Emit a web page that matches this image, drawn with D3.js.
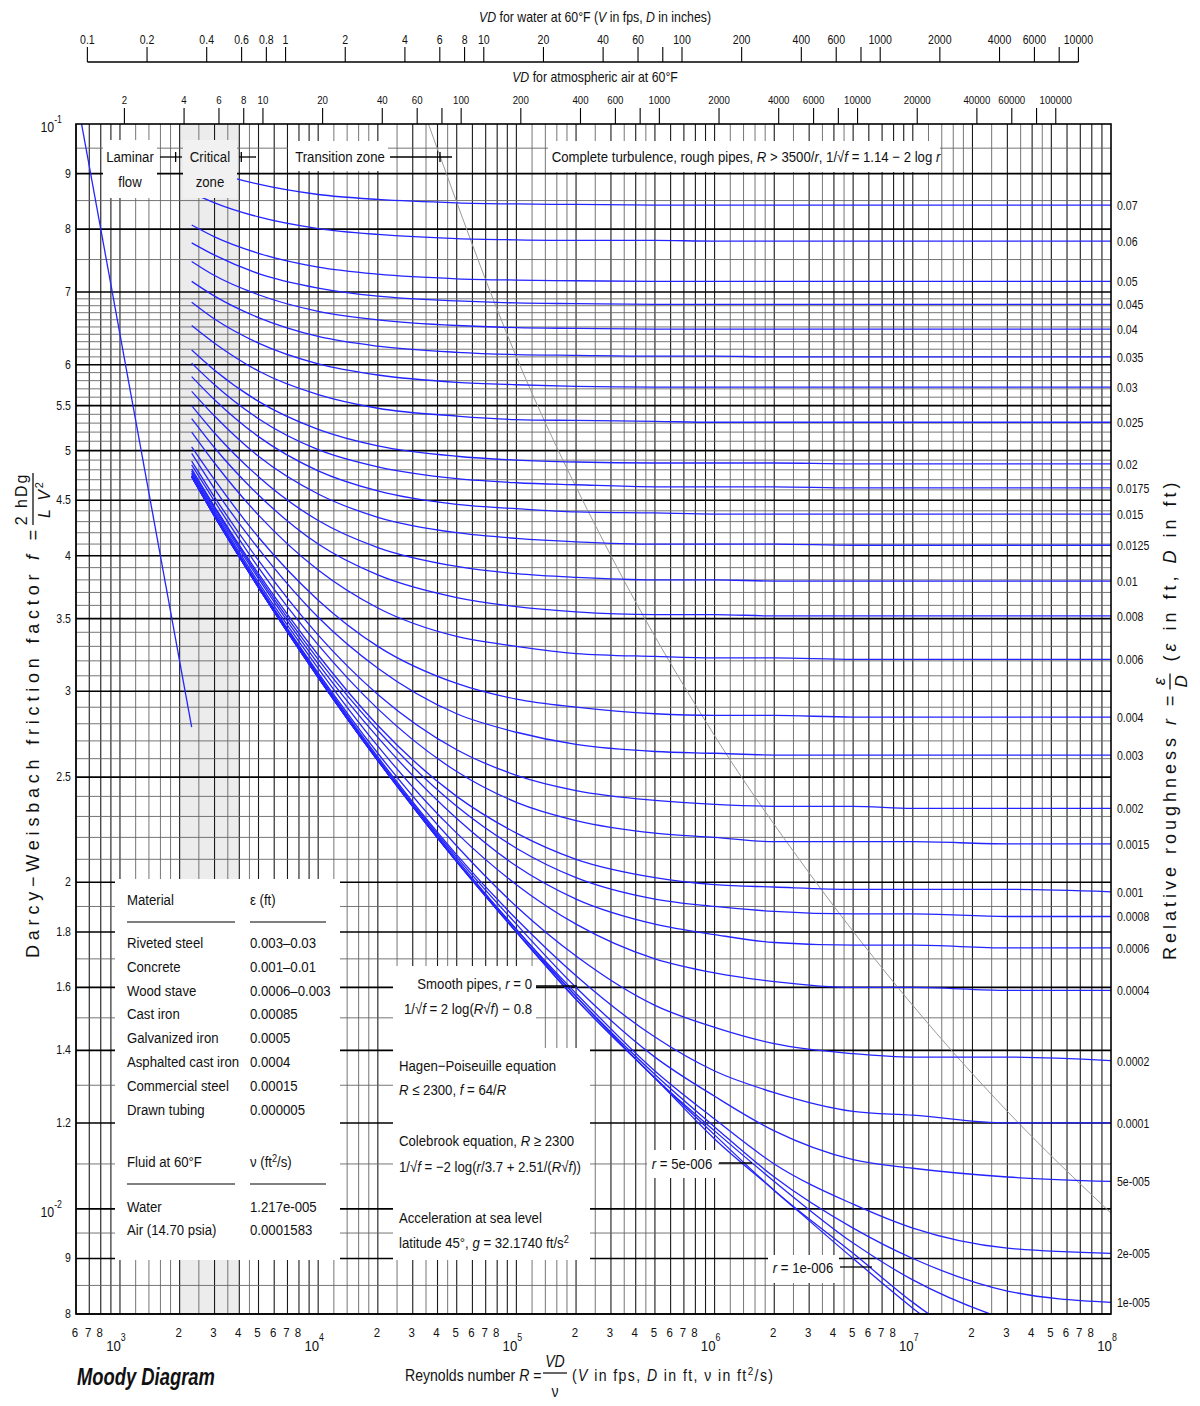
<!DOCTYPE html>
<html>
<head>
<meta charset="utf-8">
<script src="https://cdn.jsdelivr.net/npm/d3@7"></script>
<style>
body { margin: 0; background: #fff; }
svg text { font-family: "Liberation Sans", Arial, sans-serif; fill: #111; }
</style>
</head>
<body>
<svg></svg>
<script>
var reynolds = [2300, 3000, 5000, 1e4, 2e4, 5e4, 1e5, 2e5, 5e5, 1e6, 2e6, 5e6, 1e7, 3e7, 1e8];

var roughness = ["0.07", "0.06", "0.05", "0.045", "0.04", "0.035", "0.03", "0.025", "0.02", "0.0175",
    "0.015", "0.0125", "0.01", "0.008", "0.006", "0.004", "0.003", "0.002", "0.0015", "0.001",
    "0.0008", "0.0006", "0.0004", "0.0002", "0.0001", "5e-005", "2e-005", "1e-005", "5e-006", "1e-006", "0"];

var friction = [
    [0.0921, 0.0903, 0.0880, 0.0861, 0.0852, 0.0846, 0.0844, 0.0843, 0.0842, 0.0842, 0.0842, 0.0842, 0.0842, 0.0842, 0.0842],
    [0.0864, 0.0846, 0.0821, 0.0801, 0.0791, 0.0784, 0.0782, 0.0781, 0.0781, 0.0780, 0.0780, 0.0780, 0.0780, 0.0780, 0.0780],
    [0.0807, 0.0787, 0.0760, 0.0738, 0.0727, 0.0720, 0.0718, 0.0717, 0.0716, 0.0716, 0.0716, 0.0716, 0.0716, 0.0716, 0.0716],
    [0.0777, 0.0757, 0.0728, 0.0706, 0.0694, 0.0687, 0.0684, 0.0683, 0.0682, 0.0682, 0.0682, 0.0682, 0.0682, 0.0682, 0.0682],
    [0.0747, 0.0725, 0.0696, 0.0672, 0.0660, 0.0652, 0.0649, 0.0648, 0.0647, 0.0647, 0.0647, 0.0647, 0.0647, 0.0647, 0.0647],
    [0.0716, 0.0694, 0.0663, 0.0637, 0.0624, 0.0616, 0.0613, 0.0612, 0.0611, 0.0611, 0.0610, 0.0610, 0.0610, 0.0610, 0.0610],
    [0.0685, 0.0661, 0.0628, 0.0601, 0.0587, 0.0578, 0.0575, 0.0573, 0.0572, 0.0572, 0.0572, 0.0572, 0.0572, 0.0572, 0.0572],
    [0.0652, 0.0628, 0.0592, 0.0563, 0.0547, 0.0538, 0.0534, 0.0533, 0.0532, 0.0531, 0.0531, 0.0531, 0.0531, 0.0531, 0.0531],
    [0.0619, 0.0593, 0.0555, 0.0523, 0.0505, 0.0494, 0.0490, 0.0488, 0.0487, 0.0487, 0.0487, 0.0486, 0.0486, 0.0486, 0.0486],
    [0.0602, 0.0575, 0.0535, 0.0501, 0.0483, 0.0471, 0.0467, 0.0465, 0.0463, 0.0463, 0.0463, 0.0462, 0.0462, 0.0462, 0.0462],
    [0.0585, 0.0557, 0.0515, 0.0479, 0.0459, 0.0446, 0.0442, 0.0439, 0.0438, 0.0437, 0.0437, 0.0437, 0.0437, 0.0437, 0.0437],
    [0.0567, 0.0538, 0.0494, 0.0456, 0.0434, 0.0420, 0.0415, 0.0412, 0.0410, 0.0410, 0.0410, 0.0409, 0.0409, 0.0409, 0.0409],
    [0.0550, 0.0519, 0.0473, 0.0431, 0.0407, 0.0391, 0.0385, 0.0382, 0.0380, 0.0380, 0.0379, 0.0379, 0.0379, 0.0379, 0.0379],
    [0.0535, 0.0503, 0.0455, 0.0410, 0.0384, 0.0366, 0.0359, 0.0355, 0.0353, 0.0353, 0.0352, 0.0352, 0.0352, 0.0352, 0.0352],
    [0.0520, 0.0487, 0.0436, 0.0388, 0.0358, 0.0337, 0.0330, 0.0325, 0.0323, 0.0322, 0.0322, 0.0321, 0.0321, 0.0321, 0.0321],
    [0.0504, 0.0470, 0.0416, 0.0364, 0.0330, 0.0305, 0.0295, 0.0290, 0.0286, 0.0285, 0.0285, 0.0284, 0.0284, 0.0284, 0.0284],
    [0.0497, 0.0461, 0.0406, 0.0351, 0.0315, 0.0286, 0.0275, 0.0268, 0.0264, 0.0263, 0.0262, 0.0262, 0.0262, 0.0262, 0.0262],
    [0.0489, 0.0453, 0.0396, 0.0338, 0.0298, 0.0265, 0.0251, 0.0243, 0.0238, 0.0236, 0.0235, 0.0235, 0.0234, 0.0234, 0.0234],
    [0.0485, 0.0449, 0.0390, 0.0331, 0.0289, 0.0253, 0.0237, 0.0228, 0.0222, 0.0220, 0.0218, 0.0218, 0.0218, 0.0217, 0.0217],
    [0.0481, 0.0444, 0.0385, 0.0324, 0.0279, 0.0240, 0.0222, 0.0210, 0.0202, 0.0199, 0.0198, 0.0197, 0.0197, 0.0197, 0.0196],
    [0.0479, 0.0443, 0.0383, 0.0321, 0.0276, 0.0235, 0.0215, 0.0202, 0.0193, 0.0190, 0.0188, 0.0187, 0.0187, 0.0186, 0.0186],
    [0.0477, 0.0441, 0.0381, 0.0318, 0.0272, 0.0229, 0.0207, 0.0193, 0.0183, 0.0179, 0.0176, 0.0175, 0.0175, 0.0174, 0.0174],
    [0.0476, 0.0439, 0.0378, 0.0315, 0.0267, 0.0222, 0.0199, 0.0183, 0.0170, 0.0165, 0.0162, 0.0160, 0.0160, 0.0159, 0.0159],
    [0.0474, 0.0437, 0.0376, 0.0312, 0.0263, 0.0216, 0.0190, 0.0171, 0.0154, 0.0147, 0.0142, 0.0139, 0.0138, 0.0138, 0.0137],
    [0.0474, 0.0436, 0.0375, 0.0311, 0.0261, 0.0212, 0.0185, 0.0164, 0.0144, 0.0134, 0.0128, 0.0123, 0.0122, 0.0120, 0.0120],
    [0.0473, 0.0436, 0.0374, 0.0310, 0.0260, 0.0211, 0.0183, 0.0160, 0.0138, 0.0127, 0.0118, 0.0111, 0.0109, 0.0107, 0.0106],
    [0.0473, 0.0435, 0.0374, 0.0309, 0.0259, 0.0210, 0.0181, 0.0158, 0.0134, 0.0121, 0.0110, 0.0101, 0.0096, 0.0092, 0.0091],
    [0.0473, 0.0435, 0.0374, 0.0309, 0.0259, 0.0209, 0.0181, 0.0157, 0.0133, 0.0119, 0.0107, 0.0096, 0.0090, 0.0084, 0.0082],
    [0.0473, 0.0435, 0.0374, 0.0309, 0.0259, 0.0209, 0.0180, 0.0157, 0.0132, 0.0118, 0.0106, 0.0093, 0.0086, 0.0079, 0.0075],
    [0.0473, 0.0435, 0.0374, 0.0309, 0.0259, 0.0209, 0.0180, 0.0156, 0.0132, 0.0117, 0.0104, 0.0091, 0.0082, 0.0072, 0.0064],
    [0.0473, 0.0435, 0.0374, 0.0309, 0.0259, 0.0209, 0.0180, 0.0156, 0.0132, 0.0116, 0.0104, 0.0090, 0.0081, 0.0070, 0.0059]
];

// number of curves that get a label at the right edge
var labelledCurves = 28;

var laminarRe = [600, 2300];
var laminarF = [0.1067, 0.0278];

// edge of complete turbulence (R = 3500/r)
var boundaryRe = [36000, 1e5, 3e5, 1e6, 3e6, 1e7, 3e7, 1e8];
var boundaryF = [0.1, 0.0610, 0.0400, 0.0273, 0.0204, 0.0154, 0.0123, 0.00991];

var criticalZone = [2000, 4000];

var yTicks = [0.1, 0.09, 0.08, 0.07, 0.06, 0.055, 0.05, 0.045, 0.04, 0.035, 0.03, 0.025, 0.02, 0.018, 0.016, 0.014, 0.012, 0.01, 0.009, 0.008];
var yTickLabels = ["10|-1", "9", "8", "7", "6", "5.5", "5", "4.5", "4", "3.5", "3", "2.5", "2", "1.8", "1.6", "1.4", "1.2", "10|-2", "9", "8"];

var waterVD = [0.1, 0.2, 0.4, 0.6, 0.8, 1, 2, 4, 6, 8, 10, 20, 40, 60, 80, 100, 200, 400, 600, 800, 1000, 2000, 4000, 6000, 8000, 10000];
var waterLabels = ["0.1", "0.2", "0.4", "0.6", "0.8", "1", "2", "4", "6", "8", "10", "20", "40", "60", "", "100", "200", "400", "600", "", "1000", "2000", "4000", "6000", "", "10000"];
var airVD = [2, 4, 6, 8, 10, 20, 40, 60, 80, 100, 200, 400, 600, 800, 1000, 2000, 4000, 6000, 8000, 10000, 20000, 40000, 60000, 80000, 100000];
var airLabels = ["2", "4", "6", "8", "10", "20", "40", "60", "", "100", "200", "400", "600", "", "1000", "2000", "4000", "6000", "", "10000", "20000", "40000", "60000", "", "100000"];
// Reynolds number per unit VD (D in inches) from the viscosities in the table
var waterFactor = 1 / (12 * 1.217e-5);
var airFactor = 1 / (12 * 1.583e-4);

var materials = ["Riveted steel", "Concrete", "Wood stave", "Cast iron", "Galvanized iron", "Asphalted cast iron", "Commercial steel", "Drawn tubing"];
var epsilons = ["0.003\u20130.03", "0.001\u20130.01", "0.0006\u20130.003", "0.00085", "0.0005", "0.0004", "0.00015", "0.000005"];
var fluids = ["Water", "Air (14.70 psia)"];
var viscosities = ["1.217e-005", "0.0001583"];

var svgWidth = 1200, svgHeight = 1406;
var plotL = 76, plotR = 1111, plotT = 124, plotB = 1314;
var narrow = 0.88;

var svg = d3.select("svg")
    .attr("width", svgWidth)
    .attr("height", svgHeight);

var x = d3.scaleLog().domain([600, 1e8]).range([plotL, plotR]);
var y = d3.scaleLog().domain([0.1, 0.008]).range([plotT, plotB]);

svg.append("defs").append("clipPath").attr("id", "plotClip")
    .append("rect")
    .attr("x", plotL).attr("y", plotT)
    .attr("width", plotR - plotL).attr("height", plotB - plotT);

// critical zone band
svg.append("rect")
    .attr("x", x(criticalZone[0]))
    .attr("y", plotT)
    .attr("width", x(criticalZone[1]) - x(criticalZone[0]))
    .attr("height", plotB - plotT)
    .attr("fill", "#ececec");

// grid
var xMult = [1, 1.2, 1.4, 1.6, 1.8, 2, 2.5, 3, 3.5, 4, 4.5, 5, 6, 7, 8, 9];
var xGrid = [];
[1e2, 1e3, 1e4, 1e5, 1e6, 1e7].forEach(function (dec) {
    xMult.forEach(function (m) {
        var v = dec * m;
        if (v >= 599 && v < 1e8) xGrid.push({ v: v, major: m === Math.round(m) });
    });
});

var yGrid = [];
var k;
for (k = 80; k <= 100; k += 5) yGrid.push(k / 10000);
for (k = 11; k <= 70; k++) yGrid.push(k / 1000);
for (k = 75; k <= 95; k += 5) yGrid.push(k / 1000);

function isTick(d) {
    return yTicks.some(function (t) { return Math.abs(t - d) < 1e-7; });
}

var grid = svg.append("g");
grid.selectAll("line.vx").data(xGrid).enter().append("line")
    .attr("x1", function (d) { return x(d.v); })
    .attr("x2", function (d) { return x(d.v); })
    .attr("y1", plotT).attr("y2", plotB)
    .attr("stroke", function (d) { return d.major ? "#1a1a1a" : "#666"; })
    .attr("stroke-width", function (d) { return d.major ? 1.1 : 0.9; });

grid.selectAll("line.hy").data(yGrid).enter().append("line")
    .attr("x1", plotL).attr("x2", plotR)
    .attr("y1", function (d) { return y(d); })
    .attr("y2", function (d) { return y(d); })
    .attr("stroke", function (d) { return isTick(d) ? "#000" : "#666"; })
    .attr("stroke-width", function (d) { return isTick(d) ? 1.6 : 0.9; });

var plot = svg.append("g").attr("clip-path", "url(#plotClip)");

var line = d3.line()
    .x(function (d) { return x(d[0]); })
    .y(function (d) { return y(d[1]); })
    .curve(d3.curveMonotoneX);

// boundary of complete turbulence
plot.append("path")
    .datum(boundaryRe.map(function (r, i) { return [r, boundaryF[i]]; }))
    .attr("fill", "none")
    .attr("stroke", "#9a9a9a")
    .attr("stroke-width", 1)
    .attr("d", line);

plot.selectAll("path.curve").data(friction).enter().append("path")
    .attr("class", "curve")
    .attr("fill", "none")
    .attr("stroke", "#2424ff")
    .attr("stroke-width", 1.3)
    .attr("d", function (fs) {
        return line(fs.map(function (f, i) { return [reynolds[i], f]; }));
    });

plot.append("path")
    .datum(laminarRe.map(function (r, i) { return [r, laminarF[i]]; }))
    .attr("fill", "none")
    .attr("stroke", "#2424ff")
    .attr("stroke-width", 1.3)
    .attr("d", line);

// white label boxes over the grid
function box(x0, y0, x1, y1, fill) {
    svg.append("rect")
        .attr("x", x0).attr("y", y0)
        .attr("width", x1 - x0).attr("height", y1 - y0)
        .attr("fill", fill || "#fff");
}

// narrow text: squeezed horizontally about its anchor point
function squeeze(t, px, py) {
    t.attr("transform", "translate(" + px + "," + py + ") scale(" + narrow + ",1) translate(" + (-px) + "," + (-py) + ")");
    return t;
}

function txt(px, py, s, size, anchor, parent) {
    var t = (parent || svg).append("text")
        .attr("x", px).attr("y", py)
        .attr("font-size", size)
        .attr("text-anchor", anchor || "start")
        .text(s);
    return squeeze(t, px, py);
}

// rich text: parts of [string, style]
function rich(px, py, parts, size, anchor) {
    var t = svg.append("text")
        .attr("x", px).attr("y", py)
        .attr("font-size", size)
        .attr("text-anchor", anchor || "start");
    parts.forEach(function (p) {
        var ts = t.append("tspan").text(p[0]);
        if (p[1] === "i") ts.attr("font-style", "italic");
        if (p[1] === "sup") ts.attr("baseline-shift", "super").attr("font-size", size * 0.7);
    });
    return squeeze(t, px, py);
}

function seg(x1, y1, x2, y2, w) {
    svg.append("line")
        .attr("x1", x1).attr("y1", y1).attr("x2", x2).attr("y2", y2)
        .attr("stroke", "#000").attr("stroke-width", w || 1.3);
}

// zone labels
box(103, 140, 157, 198);
box(183, 140, 237, 198, "#f1f1f1");
box(288, 141, 388, 171);
box(548, 141, 940, 172);
txt(130, 162, "Laminar", 15, "middle");
txt(130, 187, "flow", 15, "middle");
txt(210, 162, "Critical", 15, "middle");
txt(210, 187, "zone", 15, "middle");
txt(340, 162, "Transition zone", 15, "middle");
rich(746, 162, [["Complete turbulence, rough pipes, "], ["R", "i"], [" > 3500/"], ["r", "i"], [",  1/\u221A"], ["f", "i"], [" = 1.14 \u2212 2 log "], ["r", "i"]], 15, "middle");

seg(160, 157, 182, 157); seg(x(criticalZone[0]) - 4, 152, x(criticalZone[0]) - 4, 162);
seg(239, 157, 256, 157); seg(x(criticalZone[1]) + 2, 152, x(criticalZone[1]) + 2, 162);
seg(390, 157, 452, 157); seg(440, 152, 440, 162);

// material table
box(115, 879, 340, 1260);
var tableFont = 15;
txt(127, 905, "Material", tableFont);
txt(250, 905, "\u03B5 (ft)", tableFont);
seg(127, 922, 235, 922, 1.2); seg(250, 922, 326, 922, 1.2);
materials.forEach(function (m, i) {
    txt(127, 948 + i * 23.8, m, tableFont);
    txt(250, 948 + i * 23.8, epsilons[i], tableFont);
});
txt(127, 1167, "Fluid at 60\u00B0F", tableFont);
rich(250, 1167, [["\u03BD (ft"], ["2", "sup"], ["/s)"]], tableFont);
seg(127, 1184, 235, 1184, 1.2); seg(250, 1184, 326, 1184, 1.2);
fluids.forEach(function (m, i) {
    txt(127, 1212 + i * 23, m, tableFont);
    txt(250, 1212 + i * 23, viscosities[i], tableFont);
});

// equations box
box(393, 966, 536, 1048);
box(393, 1048, 590, 1260);
rich(532, 989, [["Smooth pipes, "], ["r", "i"], [" = 0"]], 15, "end");
rich(532, 1014, [["1/\u221A"], ["f", "i"], [" = 2 log("], ["R", "i"], ["\u221A"], ["f", "i"], [") \u2212 0.8"]], 15, "end");
seg(536, 986, 577, 986);
rich(399, 1071, [["Hagen\u2212Poiseuille equation"]], 15);
rich(399, 1095, [["R", "i"], [" \u2264 2300,  "], ["f", "i"], [" = 64/"], ["R", "i"]], 15);
rich(399, 1146, [["Colebrook equation, "], ["R", "i"], [" \u2265 2300"]], 15);
rich(399, 1172, [["1/\u221A"], ["f", "i"], [" = \u22122 log("], ["r", "i"], ["/3.7 + 2.51/("], ["R", "i"], ["\u221A"], ["f", "i"], ["))"]], 15);
rich(399, 1223, [["Acceleration at sea level"]], 15);
rich(399, 1248, [["latitude 45\u00B0,  "], ["g", "i"], [" = 32.1740 ft/s"], ["2", "sup"]], 15);

// inline labels for the two smallest roughness curves
box(647, 1150, 718, 1178);
rich(682, 1169, [["r", "i"], [" = 5e-006"]], 15, "middle");
seg(719, 1163, 752, 1163);
box(768, 1255, 839, 1283);
rich(803, 1273, [["r", "i"], [" = 1e-006"]], 15, "middle");
seg(840, 1267, 872, 1267);

// frame
svg.append("rect")
    .attr("x", plotL).attr("y", plotT)
    .attr("width", plotR - plotL).attr("height", plotB - plotT)
    .attr("fill", "none").attr("stroke", "#000").attr("stroke-width", 1.6);

// right-hand labels
friction.slice(0, labelledCurves).forEach(function (fs, i) {
    txt(1117, y(fs[fs.length - 1]) + 5, roughness[i], 12);
});

// left tick labels
yTicks.forEach(function (t, i) {
    var lab = yTickLabels[i];
    if (lab.indexOf("|") >= 0) {
        var p = lab.split("|");
        var tt = svg.append("text").attr("x", 62).attr("y", y(t) + 8).attr("font-size", 14).attr("text-anchor", "end");
        tt.append("tspan").text(p[0]);
        tt.append("tspan").attr("dy", -9).attr("font-size", 10).text(p[1]);
        squeeze(tt, 62, y(t) + 8);
    } else {
        txt(71, y(t) + 4, lab, 12, "end");
    }
});

// bottom tick labels
var bottomMinor = [];
[1e2, 1e3, 1e4, 1e5, 1e6, 1e7].forEach(function (dec) {
    [2, 3, 4, 5, 6, 7, 8].forEach(function (m) {
        if (dec * m >= 600) bottomMinor.push([dec * m, m]);
    });
});
bottomMinor.forEach(function (v) {
    txt(x(v[0]) - 1, 1337, String(v[1]), 13, "middle");
});
[3, 4, 5, 6, 7, 8].forEach(function (e) {
    var px = x(Math.pow(10, e)) - 4;
    var tt = svg.append("text").attr("x", px).attr("y", 1351).attr("font-size", 15).attr("text-anchor", "middle");
    tt.append("tspan").text("10");
    tt.append("tspan").attr("dy", -10).attr("font-size", 10).text(String(e));
    squeeze(tt, px, 1351);
});

// top axis: water
rich(595, 22, [["VD", "i"], [" for water at 60\u00B0F ("], ["V", "i"], [" in fps, "], ["D", "i"], [" in inches)"]], 14, "middle");
seg(x(waterVD[0] * waterFactor), 62, x(waterVD[waterVD.length - 1] * waterFactor), 62, 1.6);
waterVD.forEach(function (v, i) {
    var px = x(v * waterFactor);
    seg(px, 62, px, 47, 1.1);
    if (waterLabels[i]) txt(px, 44, waterLabels[i], 12, "middle");
});

// top axis: air
rich(595, 82, [["VD", "i"], [" for atmospheric air at 60\u00B0F"]], 14, "middle");
airVD.forEach(function (v, i) {
    var px = x(v * airFactor);
    seg(px, 108, px, plotT, 1.1);
    if (airLabels[i]) txt(px, 104, airLabels[i], 11, "middle");
});

// axis titles (rotated)
var titleFont = 18;

var yl = svg.append("g").attr("transform", "translate(39,958) rotate(-90)");
var ylt = yl.append("text").attr("x", 0).attr("y", 0).attr("font-size", titleFont).attr("letter-spacing", 4.8);
ylt.append("tspan").text("Darcy\u2212Weisbach friction factor  ");
ylt.append("tspan").attr("font-style", "italic").text("f");
ylt.append("tspan").text("  =  ");
var ylw = ylt.node().getComputedTextLength();
var fr = yl.append("g").attr("transform", "translate(" + (ylw + 26) + ",0)");
fr.append("text").attr("x", 0).attr("y", -12).attr("font-size", 16).attr("text-anchor", "middle")
    .attr("letter-spacing", 2).text("2 hDg");
fr.append("line").attr("x1", -26).attr("x2", 26).attr("y1", -6).attr("y2", -6).attr("stroke", "#111").attr("stroke-width", 1.3);
var den = fr.append("text").attr("x", 0).attr("y", 11).attr("font-size", 16).attr("text-anchor", "middle").attr("letter-spacing", 2);
den.append("tspan").attr("font-style", "italic").text("L V");
den.append("tspan").attr("dy", -7).attr("font-size", 11).text("2");

var rlab = svg.append("g").attr("transform", "translate(1176,960) rotate(-90)");
var rlt = rlab.append("text").attr("x", 0).attr("y", 0).attr("font-size", titleFont).attr("letter-spacing", 4);
rlt.append("tspan").text("Relative roughness  ");
rlt.append("tspan").attr("font-style", "italic").text("r");
rlt.append("tspan").text("  =  ");
var rw = rlt.node().getComputedTextLength();
var rfr = rlab.append("g").attr("transform", "translate(" + (rw + 10) + ",0)");
rfr.append("text").attr("x", 0).attr("y", -11).attr("font-size", 17).attr("text-anchor", "middle").attr("font-style", "italic").text("\u03B5");
rfr.append("line").attr("x1", -8).attr("x2", 8).attr("y1", -6).attr("y2", -6).attr("stroke", "#111").attr("stroke-width", 1.3);
rfr.append("text").attr("x", 0).attr("y", 11).attr("font-size", 17).attr("text-anchor", "middle").attr("font-style", "italic").text("D");
var rt2 = rlab.append("text").attr("x", rw + 30).attr("y", 0).attr("font-size", titleFont).attr("letter-spacing", 4);
rt2.append("tspan").text("(");
rt2.append("tspan").attr("font-style", "italic").text("\u03B5");
rt2.append("tspan").text(" in ft, ");
rt2.append("tspan").attr("font-style", "italic").text("D");
rt2.append("tspan").text(" in ft)");

// bottom titles
var md = svg.append("text").attr("x", 77).attr("y", 1385).attr("font-size", 23)
    .attr("font-weight", "bold").attr("font-style", "italic").text("Moody Diagram");
md.attr("transform", "translate(77,1385) scale(0.8,1) translate(-77,-1385)");

rich(405, 1381, [["Reynolds number  "], ["R", "i"], [" = "]], 16);
rich(555, 1367, [["VD", "i"]], 16, "middle");
seg(543, 1373, 567, 1373, 1.2);
txt(555, 1397, "\u03BD", 16, "middle");
rich(572, 1381, [["("], ["V", "i"], [" in fps, "], ["D", "i"], [" in ft, \u03BD in ft"], ["2", "sup"], ["/s)"]], 16)
    .attr("letter-spacing", 1.6);
</script>
</body>
</html>
